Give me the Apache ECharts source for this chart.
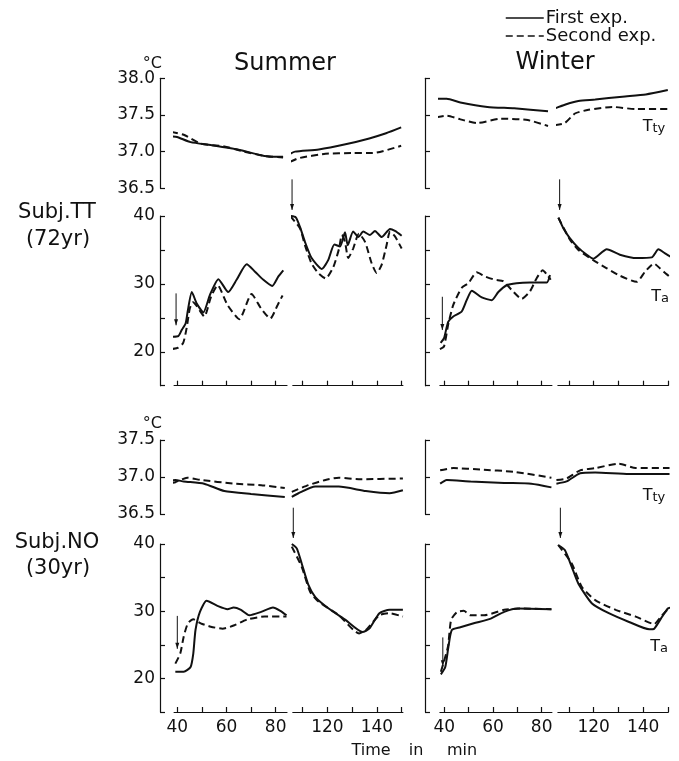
<!DOCTYPE html>
<html>
<head>
<meta charset="utf-8">
<script src="https://cdn.jsdelivr.net/npm/echarts@6/dist/echarts.min.js"></script>
<style>
html, body { margin: 0; background: #fff; }
#main { width: 679px; height: 761px; }
</style>
</head>
<body>
<div id="main"></div>
<script>
// ticks on the two time segments
var ticks1 = [40, 50, 60, 70, 80];
var labels1 = [40, 60, 80];
var ticks2 = [110, 120, 130, 140, 150];
var labels2 = [120, 140];

// Subj.TT  rectal temp (Tty) [min, degC]  A = first exp, B = second exp
var ttTtySum1A = [[37.4,37.21],[39.9,37.20],[45.4,37.13],[53.6,37.09],[64.6,37.03],[74.1,36.95],[78.3,36.93],[83.0,36.93]];
var ttTtySum1B = [[37.4,37.27],[42.6,37.23],[49.5,37.11],[59.1,37.07],[67.3,37.00],[75.5,36.94],[83.0,36.92]];
var ttTtySum2A = [[104.9,36.97],[106.9,37.00],[116.5,37.03],[127.3,37.10],[136.9,37.18],[143.7,37.25],[149.8,37.33]];
var ttTtySum2B = [[104.9,36.86],[108.3,36.91],[119.2,36.97],[130.1,36.98],[138.2,36.98],[149.8,37.08]];
var ttTtyWin1A = [[36.9,37.72],[41.0,37.72],[46.6,37.67],[57.7,37.61],[68.7,37.59],[82.6,37.55]];
var ttTtyWin1B = [[36.9,37.47],[41.0,37.49],[46.6,37.44],[53.5,37.39],[63.2,37.45],[74.3,37.43],[82.6,37.35]];
var ttTtyWin2A = [[104.3,37.59],[108.3,37.64],[113.8,37.69],[120.6,37.71],[131.6,37.75],[141.1,37.78],[150.0,37.84]];
var ttTtyWin2B = [[104.3,37.36],[108.3,37.39],[112.4,37.52],[117.9,37.57],[127.5,37.61],[137.0,37.58],[150.0,37.58]];

// Subj.TT  room temp (Ta)
var ttTaSum1A = [[37.7,22.2],[40.4,22.3],[41.8,23.2],[43.4,24.2],[44.2,25.9],[45.9,28.8],[47.9,27.1],[50.6,25.8],[53.3,28.4],[56.7,30.7],[60.7,28.8],[64.1,30.6],[68.2,32.9],[71.6,31.8],[75.0,30.6],[78.6,29.7],[81.1,31.1],[83.1,32.0]];
var ttTaSum1B = [[37.8,20.4],[40.4,20.6],[42.4,21.3],[43.8,23.5],[45.1,26.4],[46.4,27.3],[47.8,26.8],[51.0,25.2],[53.7,28.1],[56.4,29.8],[60.4,26.9],[65.2,24.8],[70.2,28.5],[74.0,26.4],[77.8,24.9],[80.8,26.9],[82.8,28.3]];
var ttTaSum2A = [[104.9,40.0],[107.2,39.8],[108.9,38.4],[110.9,36.2],[113.6,33.8],[117.7,32.2],[120.3,33.5],[122.8,35.8],[125.1,35.5],[127.1,37.6],[128.2,35.7],[130.4,37.7],[132.5,36.9],[134.5,37.7],[137.2,37.2],[139.2,37.8],[141.9,36.9],[145.3,38.1],[147.3,37.8],[150.0,37.1]];
var ttTaSum2B = [[104.9,40.0],[108.9,38.2],[110.9,35.7],[113.6,33.0],[116.3,31.6],[119.3,30.8],[122.4,32.5],[124.7,35.2],[125.8,37.2],[127.1,36.2],[128.4,33.8],[130.4,35.2],[132.7,37.4],[135.2,36.2],[137.9,33.0],[139.9,31.6],[141.9,32.8],[143.9,35.7],[145.3,37.7],[147.3,37.0],[150.0,35.2]];
var ttTaWin1A = [[38.5,21.3],[39.9,22.0],[41.6,24.4],[43.7,25.2],[47.1,25.9],[49.2,27.6],[51.3,29.0],[55.4,28.0],[59.5,27.6],[62.2,28.8],[65.6,29.8],[69.7,30.1],[75.2,30.2],[82.1,30.2],[83.4,31.3]];
var ttTaWin1B = [[38.2,20.4],[39.9,20.8],[41.6,24.0],[43.7,26.9],[47.1,29.4],[49.9,30.1],[53.3,31.7],[56.7,31.1],[60.8,30.6],[64.2,30.4],[67.7,29.1],[71.8,27.8],[75.2,28.9],[77.9,30.8],[80.4,32.0],[82.3,31.3],[83.7,30.6]];
var ttTaWin2A = [[105.7,39.75],[107.7,38.2],[110.4,36.7],[113.8,35.3],[117.2,34.3],[119.8,33.7],[125.3,35.1],[130.6,34.3],[137.4,33.8],[143.5,33.9],[146.2,35.1],[148.9,34.5],[151.6,33.9]];
var ttTaWin2B = [[105.7,39.75],[110.4,36.5],[113.8,35.0],[119.8,33.5],[125.3,32.3],[130.6,31.2],[137.4,30.3],[140.8,31.8],[144.4,33.0],[146.8,32.3],[149.6,31.4],[151.6,30.8]];

// Subj.NO  Tty
var noTtySum1A = [[37.7,36.95],[39.2,36.96],[42.6,36.94],[50.9,36.91],[59.1,36.81],[70.0,36.77],[83.7,36.73]];
var noTtySum1B = [[37.7,36.92],[39.2,36.93],[44.0,36.99],[49.5,36.96],[63.2,36.91],[74.1,36.89],[83.7,36.85]];
var noTtySum2A = [[105.6,36.73],[108.3,36.78],[115.1,36.87],[124.6,36.87],[135.5,36.81],[145.1,36.78],[150.5,36.82]];
var noTtySum2B = [[105.6,36.80],[112.3,36.89],[119.2,36.96],[124.6,36.99],[132.7,36.97],[150.5,36.98]];
var noTtyWin1A = [[38.3,36.91],[41.0,36.96],[50.8,36.94],[64.6,36.92],[75.7,36.91],[84.0,36.86]];
var noTtyWin1B = [[38.3,37.09],[43.8,37.12],[54.9,37.10],[68.7,37.07],[84.0,36.99]];
var noTtyWin2A = [[104.9,36.91],[109.0,36.94],[114.5,37.05],[120.6,37.06],[134.3,37.04],[150.7,37.04]];
var noTtyWin2B = [[104.9,36.96],[109.0,36.98],[114.5,37.09],[120.6,37.12],[130.2,37.18],[137.0,37.12],[150.7,37.12]];

// Subj.NO  Ta
var noTaSum1A = [[39.2,21.0],[42.6,21.0],[45.4,21.7],[46.5,23.7],[47.4,27.2],[49.2,29.9],[51.9,31.55],[56.3,30.8],[60.4,30.3],[62.9,30.55],[65.9,30.2],[69.3,29.4],[74.1,29.9],[78.9,30.55],[81.7,30.1],[84.4,29.4]];
var noTaSum1B = [[39.2,22.2],[41.2,23.7],[42.6,26.2],[44.3,28.2],[46.5,28.8],[49.5,28.2],[53.6,27.7],[58.4,27.4],[63.2,27.9],[68.7,28.8],[75.5,29.2],[84.4,29.2]];
var noTaSum2A = [[105.6,40.0],[107.6,39.35],[109.6,37.1],[112.3,33.9],[115.1,32.1],[120.5,30.4],[127.3,28.7],[134.2,26.9],[136.9,27.4],[141.0,29.7],[145.1,30.2],[150.5,30.2]];
var noTaSum2B = [[105.6,39.6],[109.6,36.6],[113.0,32.9],[116.5,31.4],[124.6,29.4],[132.8,26.7],[135.5,27.2],[141.0,29.4],[145.1,29.7],[150.5,29.2]];
var noTaWin1A = [[38.6,20.6],[40.4,21.7],[41.7,24.7],[43.1,27.2],[46.6,27.6],[52.1,28.2],[59.1,28.9],[64.6,29.9],[70.1,30.4],[84.0,30.3]];
var noTaWin1B = [[38.6,21.0],[41.5,24.7],[42.8,28.7],[45.3,29.9],[48.0,30.05],[50.8,29.4],[56.4,29.4],[64.6,30.2],[71.5,30.4],[84.0,30.3]];
var noTaWin2A = [[105.6,39.85],[108.3,39.1],[111.1,36.6],[113.8,34.1],[119.3,31.15],[126.1,29.7],[134.3,28.4],[142.5,27.3],[144.5,27.4],[147.2,28.9],[150.0,30.4],[151.4,30.55]];
var noTaWin2B = [[105.6,39.85],[111.1,37.1],[115.2,33.6],[120.6,31.65],[128.9,30.2],[137.0,29.2],[144.5,28.1],[147.2,29.2],[150.7,30.55]];

// arrows (time, from, to) on the Ta panels
var ttArrSum1 = [[39.5, 28.6, 23.9]];
var ttArrSum2 = [[105.7, 45.4, 40.9]];
var ttArrWin1 = [[39.2, 28.1, 23.2]];
var ttArrWin2 = [[106.2, 45.4, 40.9]];
var noArrSum1 = [[40.0, 29.3, 24.4]];
var noArrSum2 = [[106.2, 45.4, 40.9]];
var noArrWin1 = [[39.4, 26.1, 21.8]];
var noArrWin2 = [[106.5, 45.4, 40.9]];

var ink = '#111';
var font = 'DejaVu Sans';

var rows = [
	{ top: 78.3, height: 110, min: 36.5, max: 38.0, interval: 0.5, ta: false, labels: false },
	{ top: 216, height: 169.7, min: 15, max: 40, interval: 5, ta: true, labels: false },
	{ top: 440, height: 74, min: 36.5, max: 37.5, interval: 0.5, ta: false, labels: false },
	{ top: 544, height: 168, min: 15, max: 40, interval: 5, ta: true, labels: true }
];
var segs = [
	{ left: 174.1, width: 112.9, min: 38.7, max: 84.6, ticks: ticks1, labels: labels1, axisX: 160 },
	{ left: 292.8, width: 110.1, min: 106, max: 150.5, ticks: ticks2, labels: labels2 },
	{ left: 439.9, width: 112, min: 38.2, max: 84.2, ticks: ticks1, labels: labels1, axisX: 425 },
	{ left: 557.9, width: 110.4, min: 105.5, max: 150.2, ticks: ticks2, labels: labels2 }
];

// row, segment, first exp, second exp, arrows
var panels = [
	[0, 0, ttTtySum1A, ttTtySum1B], [0, 1, ttTtySum2A, ttTtySum2B],
	[0, 2, ttTtyWin1A, ttTtyWin1B], [0, 3, ttTtyWin2A, ttTtyWin2B],
	[1, 0, ttTaSum1A, ttTaSum1B, ttArrSum1], [1, 1, ttTaSum2A, ttTaSum2B, ttArrSum2],
	[1, 2, ttTaWin1A, ttTaWin1B, ttArrWin1], [1, 3, ttTaWin2A, ttTaWin2B, ttArrWin2],
	[2, 0, noTtySum1A, noTtySum1B], [2, 1, noTtySum2A, noTtySum2B],
	[2, 2, noTtyWin1A, noTtyWin1B], [2, 3, noTtyWin2A, noTtyWin2B],
	[3, 0, noTaSum1A, noTaSum1B, noArrSum1], [3, 1, noTaSum2A, noTaSum2B, noArrSum2],
	[3, 2, noTaWin1A, noTaWin1B, noArrWin1], [3, 3, noTaWin2A, noTaWin2B, noArrWin2]
];

var grids = [], xAxes = [], yAxes = [], series = [];

rows.forEach(function(r, ri) {
	segs.forEach(function(s, si) {
		var g = grids.length;
		grids.push({ left: s.left, top: r.top, width: s.width, height: r.height });
		xAxes.push({
			gridIndex: g, type: 'value', min: s.min, max: s.max, show: r.ta,
			axisLine: { show: true, onZero: false, lineStyle: { color: ink, width: 1.2 } },
			axisTick: { show: true, inside: true, length: 5, customValues: s.ticks, lineStyle: { color: ink, width: 1.2 } },
			axisLabel: { show: r.labels, customValues: s.labels, margin: 7, color: ink, fontSize: 17, fontFamily: font },
			splitLine: { show: false }
		});
		yAxes.push({
			gridIndex: g, type: 'value', min: r.min, max: r.max, interval: r.interval,
			show: s.axisX !== undefined,
			offset: s.axisX !== undefined ? s.left - s.axisX : 0,
			axisLine: { show: true, lineStyle: { color: ink, width: 1.2 } },
			axisTick: { show: true, inside: true, length: 5, lineStyle: { color: ink, width: 1.2 } },
			axisLabel: {
				show: si === 0, margin: 5, color: ink, fontSize: 17, fontFamily: font,
				formatter: function(v) {
					if (r.ta) return v % 10 === 0 ? String(v) : '';
					return v.toFixed(1);
				}
			},
			splitLine: { show: false }
		});
	});
});

function renderArrow(params, api) {
	var p1 = api.coord([api.value(0), api.value(1)]);
	var p2 = api.coord([api.value(0), api.value(2)]);
	return {
		type: 'group',
		children: [{
			type: 'line',
			shape: { x1: p1[0], y1: p1[1], x2: p2[0], y2: p2[1] },
			style: { stroke: ink, lineWidth: 1 }
		}, {
			type: 'polygon',
			shape: { points: [[p2[0] - 2, p2[1] - 6], [p2[0] + 2, p2[1] - 6], [p2[0], p2[1]]] },
			style: { fill: ink }
		}]
	};
}

panels.forEach(function(p) {
	var g = p[0] * 4 + p[1];
	series.push({
		name: 'First exp.', type: 'line', xAxisIndex: g, yAxisIndex: g, data: p[2],
		symbol: 'none', smooth: 0.2, clip: false, color: ink,
		lineStyle: { color: ink, width: 2 }
	});
	series.push({
		name: 'Second exp.', type: 'line', xAxisIndex: g, yAxisIndex: g, data: p[3],
		symbol: 'none', smooth: 0.2, clip: false, color: ink,
		lineStyle: { color: ink, width: 2, type: [7, 4] }
	});
	if (p[4]) {
		series.push({
			type: 'custom', xAxisIndex: g, yAxisIndex: g, data: p[4],
			renderItem: renderArrow, clip: false, silent: true
		});
	}
});

function txt(x, y, text, size, align) {
	return {
		type: 'text', x: x, y: y, silent: true,
		style: { text: text, fill: ink, fontSize: size, fontFamily: font, align: align || 'center', verticalAlign: 'middle' }
	};
}
function sub(x, y, a, b) {
	return {
		type: 'text', x: x, y: y, silent: true,
		style: {
			text: '{a|' + a + '}{b|' + b + '}', align: 'center', verticalAlign: 'middle',
			rich: {
				a: { fontSize: 16, fontFamily: font, fill: ink, verticalAlign: 'bottom' },
				b: { fontSize: 13, fontFamily: font, fill: ink, verticalAlign: 'bottom' }
			}
		}
	};
}

var option = {
	animation: false,
	backgroundColor: '#fff',
	legend: {
		data: ['First exp.', 'Second exp.'],
		orient: 'vertical', left: 500, top: 4,
		itemWidth: 38, itemHeight: 12, itemGap: 0,
		selectedMode: false,
		itemStyle: { opacity: 0 },
		lineStyle: { width: 1.5, color: ink },
		textStyle: { color: ink, fontSize: 18, fontFamily: font, padding: [0, 0, 0, -3] }
	},
	grid: grids,
	xAxis: xAxes,
	yAxis: yAxes,
	series: series,
	graphic: [
		txt(285, 64, 'Summer', 24),
		txt(555, 63, 'Winter', 24),
		txt(162, 64, '°C', 16, 'right'),
		txt(162, 424, '°C', 16, 'right'),
		txt(57, 213, 'Subj.TT', 21),
		txt(58, 240, '(72yr)', 21),
		txt(57, 543, 'Subj.NO', 21),
		txt(58, 569, '(30yr)', 21),
		sub(654, 127, 'T', 'ty'),
		sub(654, 496, 'T', 'ty'),
		sub(660, 297, 'T', 'a'),
		sub(659, 647, 'T', 'a'),
		txt(371, 751, 'Time', 16),
		txt(416, 751, 'in', 16),
		txt(462, 751, 'min', 16)
	]
};

var chart = echarts.init(document.getElementById('main'));
chart.setOption(option);
</script>
</body>
</html>
